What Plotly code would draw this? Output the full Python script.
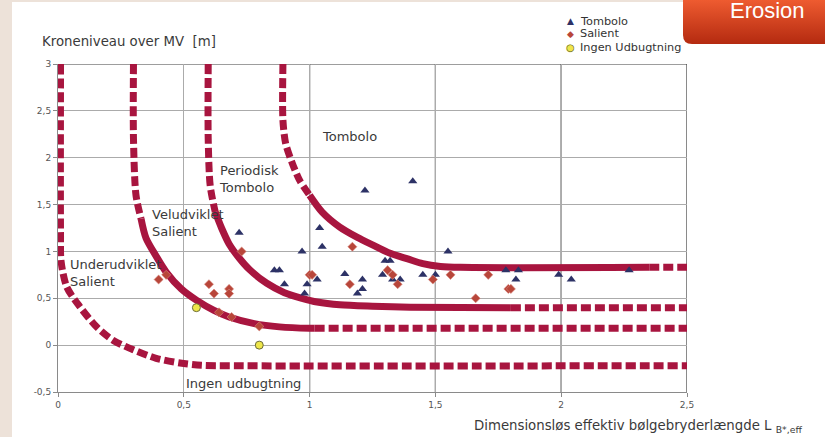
import base64
import plotly.graph_objects as go

# ---------------- data ----------------
x_ticks = [0, 0.5, 1, 1.5, 2, 2.5]
x_tick_labels = ["0", "0,5", "1", "1,5", "2", "2,5"]
y_ticks = [-0.5, 0, 0.5, 1, 1.5, 2, 2.5, 3]
y_tick_labels = ["-0,5", "0", "0,5", "1", "1,5", "2", "2,5", "3"]

tombolo_x = [0.72, 0.86, 0.88, 0.90, 0.97, 0.98, 0.99, 1.03, 1.04, 1.05, 1.14, 1.19, 1.21, 1.21, 1.22,
             1.29, 1.30, 1.32, 1.33, 1.36, 1.41, 1.45, 1.50, 1.55, 1.78, 1.82, 1.83, 1.99, 2.04, 2.27]
tombolo_y = [1.20, 0.80, 0.80, 0.65, 1.00, 0.55, 0.65, 0.70, 1.25, 1.05, 0.76, 0.55, 0.60, 0.70, 1.65,
             0.75, 0.90, 0.90, 0.70, 0.70, 1.75, 0.75, 0.75, 1.00, 0.80, 0.70, 0.80, 0.75, 0.70, 0.80]

salient_x = [0.40, 0.43, 0.60, 0.62, 0.64, 0.68, 0.68, 0.69, 0.73, 0.80, 1.00, 1.01, 1.16, 1.17,
             1.31, 1.33, 1.35, 1.49, 1.56, 1.66, 1.71, 1.79, 1.80]
salient_y = [0.70, 0.75, 0.65, 0.55, 0.35, 0.60, 0.55, 0.30, 1.00, 0.20, 0.75, 0.75, 0.65, 1.05,
             0.80, 0.75, 0.65, 0.70, 0.75, 0.50, 0.75, 0.60, 0.60]

ingen_x = [0.55, 0.80]
ingen_y = [0.40, 0.00]

# boundary curves: dashed and solid segments
curve_a_dash_x = [0.01, 0.01, 0.012, 0.035, 0.087, 0.155, 0.22, 0.30, 0.39, 0.485, 0.57, 0.70, 2.5]
curve_a_dash_y = [3.0, 1.2, 0.9, 0.62, 0.41, 0.19, 0.05, -0.05, -0.14, -0.19, -0.215, -0.22, -0.22]

curve_b_dash1_x = [0.30, 0.30, 0.31, 0.33]
curve_b_dash1_y = [3.0, 2.2, 1.6, 1.35]
curve_b_solid_x = [0.33, 0.35, 0.39, 0.43, 0.49, 0.55, 0.62, 0.68, 0.78, 0.88, 1.0, 1.02]
curve_b_solid_y = [1.35, 1.14, 0.95, 0.78, 0.60, 0.48, 0.37, 0.30, 0.23, 0.195, 0.18, 0.18]
curve_b_dash2_x = [1.02, 2.5]
curve_b_dash2_y = [0.18, 0.18]

curve_c_dash1_x = [0.597, 0.597, 0.605, 0.625]
curve_c_dash1_y = [3.0, 2.2, 1.7, 1.42]
curve_c_solid_x = [0.625, 0.65, 0.68, 0.72, 0.76, 0.83, 0.90, 0.97, 1.03, 1.12, 1.25, 1.40, 1.80]
curve_c_solid_y = [1.42, 1.25, 1.08, 0.93, 0.81, 0.66, 0.56, 0.50, 0.46, 0.43, 0.415, 0.405, 0.40]
curve_c_dash2_x = [1.80, 2.5]
curve_c_dash2_y = [0.40, 0.40]

curve_d_dash1_x = [0.894, 0.894, 0.905, 0.93, 0.96, 1.0]
curve_d_dash1_y = [3.0, 2.4, 2.15, 1.95, 1.76, 1.60]
curve_d_solid_x = [1.0, 1.05, 1.12, 1.19, 1.25, 1.32, 1.39, 1.45, 1.52, 1.60, 2.35]
curve_d_solid_y = [1.60, 1.42, 1.26, 1.15, 1.07, 0.98, 0.92, 0.87, 0.84, 0.83, 0.83]
curve_d_dash2_x = [2.35, 2.5]
curve_d_dash2_y = [0.83, 0.83]

region_labels = ["Tombolo", "Periodisk<br>Tombolo", "Veludviklet<br>Salient",
                 "Underudviklet<br>Salient", "Ingen udbugtning"]
region_label_x = [1.04, 0.63, 0.366, 0.04, 0.50]
region_label_y = [2.23, 1.77, 1.30, 0.77, -0.41]

legend_names = ["Tombolo", "Salient", "Ingen Udbugtning"]

# ---------------- style ----------------
FONT = "DejaVu Sans"
TXT = "#3a3a3a"
CURVE = "#A8153F"
LW = 7
DASH = "10px,4px"
C_TOMB = "#2D3266"
C_SAL = "#B8463A"
C_ING = "#EEE64A"

W, H = 825, 437
L, R, T, B = 58, 138, 64, 45
PW, PH = W - L - R, H - T - B


def pxx(px):
    return (px - L) / PW


def pxy(py):
    return (H - B - py) / PH


fig = go.Figure()

segments = [
    (curve_a_dash_x, curve_a_dash_y, DASH),
    (curve_b_dash1_x, curve_b_dash1_y, DASH),
    (curve_b_solid_x, curve_b_solid_y, "solid"),
    (curve_b_dash2_x, curve_b_dash2_y, DASH),
    (curve_c_dash1_x, curve_c_dash1_y, DASH),
    (curve_c_solid_x, curve_c_solid_y, "solid"),
    (curve_c_dash2_x, curve_c_dash2_y, DASH),
    (curve_d_dash1_x, curve_d_dash1_y, DASH),
    (curve_d_solid_x, curve_d_solid_y, "solid"),
    (curve_d_dash2_x, curve_d_dash2_y, DASH),
]
for sx, sy, d in segments:
    fig.add_trace(go.Scatter(
        x=sx, y=sy, mode="lines", showlegend=False, hoverinfo="skip",
        line=dict(color=CURVE, width=LW, dash=d, shape="spline", smoothing=0.8),
    ))

fig.add_trace(go.Scatter(
    x=tombolo_x, y=tombolo_y, mode="markers", name=legend_names[0], showlegend=False,
    marker=dict(symbol="triangle-up", size=8, color=C_TOMB),
))
fig.add_trace(go.Scatter(
    x=salient_x, y=salient_y, mode="markers", name=legend_names[1], showlegend=False,
    marker=dict(symbol="diamond", size=7, color=C_SAL, line=dict(color="#D98A80", width=0.6)),
))
fig.add_trace(go.Scatter(
    x=ingen_x, y=ingen_y, mode="markers", name=legend_names[2], showlegend=False,
    marker=dict(symbol="circle", size=8, color=C_ING, line=dict(color="#6b6b3a", width=1)),
))

# region labels
for t, lx, ly in zip(region_labels, region_label_x, region_label_y):
    fig.add_annotation(x=lx, y=ly, xref="x", yref="y", text=t, showarrow=False,
                       xanchor="left", yanchor="middle", align="left",
                       font=dict(family=FONT, size=13, color=TXT))

# axis titles
fig.add_annotation(x=pxx(40), y=pxy(42), xref="paper", yref="paper",
                   text="Kroneniveau over MV  [m]", showarrow=False,
                   xanchor="left", yanchor="middle", font=dict(family=FONT, size=13.3, color=TXT))
fig.add_annotation(x=pxx(472), y=pxy(426), xref="paper", yref="paper",
                   text="Dimensionsløs effektiv bølgebryderlængde L <sub>B*,eff</sub>", showarrow=False,
                   xanchor="left", yanchor="middle", font=dict(family=FONT, size=13.3, color=TXT))

# compact legend (text + symbol glyphs)
legend_glyphs = [("▲", C_TOMB, 9), ("◆", C_SAL, 9), ("●", C_ING, 10)]
for i, (name, (g, c, s)) in enumerate(zip(legend_names, legend_glyphs)):
    yy = pxy(21 + 13 * i)
    fig.add_annotation(x=pxx(570), y=yy, xref="paper", yref="paper", text=g, showarrow=False,
                       xanchor="center", yanchor="middle", font=dict(family=FONT, size=s, color=c))
    if i == 2:
        fig.add_annotation(x=pxx(570), y=yy, xref="paper", yref="paper", text="○", showarrow=False,
                           xanchor="center", yanchor="middle", font=dict(family=FONT, size=s, color="#6b6b3a"))
    fig.add_annotation(x=pxx(578), y=yy, xref="paper", yref="paper", text=name, showarrow=False,
                       xanchor="left", yanchor="middle", font=dict(family=FONT, size=11.3, color="#333333"))

# dark frame / grid lines
shapes = []
for gx in [1, 1.5, 2, 2.5]:
    shapes.append(dict(type="line", xref="x", yref="y", x0=gx, x1=gx, y0=-0.5, y1=3,
                       line=dict(color="#3c3c3c", width=1.2), layer="below"))
shapes.append(dict(type="line", xref="x", yref="y", x0=0, x1=2.5, y0=3, y1=3,
                   line=dict(color="#3c3c3c", width=1.2), layer="below"))
# beige slide background strips
shapes.append(dict(type="rect", xref="paper", yref="paper", x0=pxx(0), x1=pxx(12), y0=pxy(H), y1=pxy(0),
                   fillcolor="#EDE2D9", line=dict(width=0), layer="below"))
shapes.append(dict(type="rect", xref="paper", yref="paper", x0=pxx(0), x1=pxx(683), y0=pxy(2), y1=pxy(0),
                   fillcolor="#EDE2D9", line=dict(width=0), layer="below"))

# "Erosion" tab with gradient
svg = ('<svg xmlns="http://www.w3.org/2000/svg" width="142" height="44" viewBox="0 0 142 44">'
       '<defs><linearGradient id="g" x1="0" y1="0" x2="0" y2="1">'
       '<stop offset="0" stop-color="#EE5B30"/><stop offset="1" stop-color="#B42A10"/></linearGradient></defs>'
       '<path d="M0,0 H142 V44 H9 Q0,44 0,35 Z" fill="url(#g)"/></svg>')
src = "data:image/svg+xml;base64," + base64.b64encode(svg.encode()).decode()
fig.add_layout_image(source=src, xref="paper", yref="paper", x=pxx(683), y=pxy(0),
                     sizex=142 / PW, sizey=44 / PH, sizing="stretch",
                     xanchor="left", yanchor="top", layer="above")
fig.add_annotation(x=pxx(767), y=pxy(11), xref="paper", yref="paper", text="Erosion",
                   showarrow=False, xanchor="center", yanchor="middle",
                   font=dict(family="Liberation Sans", size=22, color="white"))

fig.update_layout(
    width=W, height=H, margin=dict(l=L, r=R, t=T, b=B, autoexpand=False),
    paper_bgcolor="white", plot_bgcolor="white",
    shapes=shapes, showlegend=False,
    font=dict(family=FONT, color=TXT),
    xaxis=dict(range=[0, 2.5], tickvals=x_ticks, ticktext=x_tick_labels,
               showgrid=True, gridcolor="#ababab", gridwidth=1, zeroline=False,
               showline=True, linecolor="#8a8a8a", linewidth=1,
               ticks="outside", ticklen=4, tickcolor="#8a8a8a",
               tickfont=dict(family=FONT, size=9, color="#555555")),
    yaxis=dict(range=[-0.5, 3], tickvals=y_ticks, ticktext=y_tick_labels,
               showgrid=True, gridcolor="#ababab", gridwidth=1, zeroline=False,
               showline=True, linecolor="#8a8a8a", linewidth=1,
               ticks="outside", ticklen=4, tickcolor="#8a8a8a",
               tickfont=dict(family=FONT, size=9, color="#555555")),
)

fig.write_html("out.html", config={"displayModeBar": False},
               post_script="document.body.style.margin='0px';")
